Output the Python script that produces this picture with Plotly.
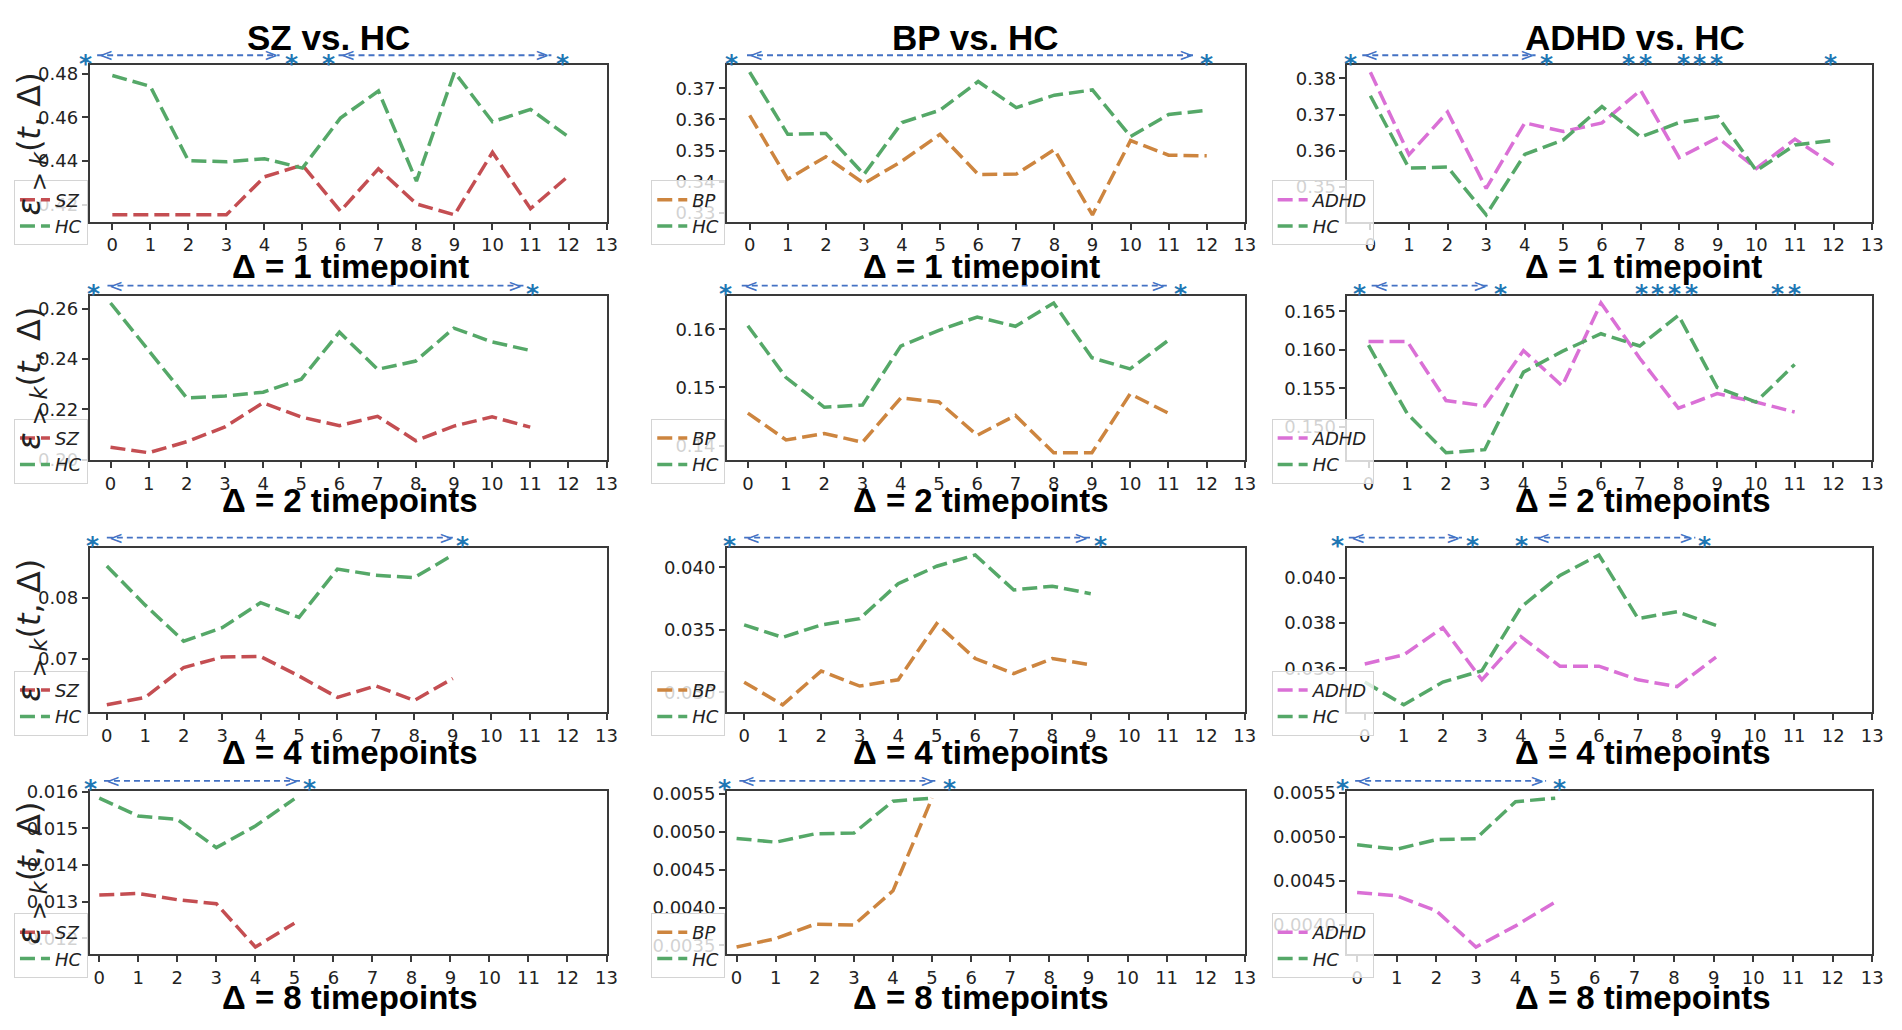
import plotly.graph_objects as go

# ---- data ----
timepoints = [0, 1, 2, 3, 4, 5, 6, 7, 8, 9, 10, 11, 12]
x_ticks = [0, 1, 2, 3, 4, 5, 6, 7, 8, 9, 10, 11, 12, 13]
column_titles = ["SZ vs. HC", "BP vs. HC", "ADHD vs. HC"]
row_titles = ["Δ = 1 timepoint", "Δ = 2 timepoints", "Δ = 4 timepoints", "Δ = 8 timepoints"]
groups = ["SZ", "BP", "ADHD"]

# delta = 1
sz_d1 = [0.4153, 0.4153, 0.4156, 0.4153, 0.4327, 0.4381, 0.4170, 0.4364, 0.4203, 0.4153, 0.4439, 0.4181, 0.4331]
hc_sz_d1 = [0.4791, 0.4741, 0.4401, 0.4396, 0.4410, 0.4367, 0.4596, 0.4720, 0.4307, 0.4806, 0.4579, 0.4636, 0.4510]
bp_d1 = [0.3613, 0.3408, 0.3480, 0.3394, 0.3466, 0.3552, 0.3423, 0.3424, 0.3503, 0.3293, 0.3532, 0.3485, 0.3483]
adhd_d1 = [0.3817, 0.3589, 0.3707, 0.3496, 0.3677, 0.3653, 0.3677, 0.3767, 0.3581, 0.3636, 0.3551, 0.3632, 0.3561]
hc_d1 = [0.3752, 0.3552, 0.3555, 0.3423, 0.3590, 0.3630, 0.3722, 0.3638, 0.3678, 0.3695, 0.3545, 0.3616, 0.3629]

# delta = 2
sz_d2 = [0.2049, 0.2027, 0.2071, 0.2130, 0.2226, 0.2169, 0.2135, 0.2172, 0.2075, 0.2133, 0.2170, 0.2129]
hc_sz_d2 = [0.2623, 0.2436, 0.2245, 0.2253, 0.2268, 0.2320, 0.2507, 0.2359, 0.2392, 0.2523, 0.2468, 0.2434]
bp_d2 = [0.1456, 0.1410, 0.1421, 0.1406, 0.1482, 0.1475, 0.1418, 0.1452, 0.1388, 0.1388, 0.1489, 0.1456]
adhd_d2 = [0.1611, 0.1611, 0.1534, 0.1527, 0.1599, 0.1553, 0.1661, 0.1589, 0.1524, 0.1543, 0.1532, 0.1519]
hc_d2 = [0.1606, 0.1517, 0.1466, 0.1470, 0.1571, 0.1598, 0.1621, 0.1605, 0.1645, 0.1551, 0.1532, 0.1581]

# delta = 4
sz_d4 = [0.0625, 0.0637, 0.0686, 0.0703, 0.0704, 0.0672, 0.0637, 0.0656, 0.0632, 0.0668]
hc_sz_d4 = [0.0852, 0.0788, 0.0729, 0.0751, 0.0792, 0.0768, 0.0847, 0.0837, 0.0833, 0.0870]
bp_d4 = [0.0308, 0.0290, 0.0317, 0.0305, 0.0310, 0.0355, 0.0327, 0.0315, 0.0327, 0.0322]
adhd_d4 = [0.0362, 0.0366, 0.0378, 0.0355, 0.0374, 0.0361, 0.0361, 0.0355, 0.0352, 0.0365]
hc_d4 = [0.0354, 0.0344, 0.0354, 0.0359, 0.0387, 0.0401, 0.0410, 0.0382, 0.0385, 0.0379]

# delta = 8
sz_d8 = [0.01318, 0.01322, 0.01305, 0.01294, 0.01176, 0.01241]
hc_sz_d8 = [0.01582, 0.01533, 0.01524, 0.01447, 0.01506, 0.01580]
bp_d8 = [0.00348, 0.00359, 0.00378, 0.00377, 0.00422, 0.00544]
adhd_d8 = [0.00437, 0.00433, 0.00416, 0.00375, 0.00399, 0.00426]
hc_d8 = [0.00491, 0.00486, 0.00497, 0.00498, 0.00540, 0.00544]

# significance marks: star positions and <--> spans (in timepoints)
star_sz_d1 = [-0.70, 4.72, 5.68, 11.84]
span_sz_d1 = [(-0.40, 4.40), (5.95, 11.55)]
star_bp_d1 = [-0.48, 12.0]
span_bp_d1 = [(-0.07, 11.70)]
star_adhd_d1 = [-0.52, 4.56, 6.68, 7.12, 8.10, 8.53, 8.96, 11.92]
span_adhd_d1 = [(-0.21, 4.28)]
star_sz_d2 = [-0.44, 11.07]
span_sz_d2 = [(-0.08, 10.83)]
star_bp_d2 = [-0.58, 11.31]
span_bp_d2 = [(-0.16, 10.96)]
star_adhd_d2 = [-0.24, 3.41, 7.04, 7.46, 7.91, 8.34, 10.55, 10.99]
span_adhd_d2 = [(0.08, 3.12)]
star_sz_d4 = [-0.36, 9.26]
span_sz_d4 = [(0.0, 9.05)]
star_bp_d4 = [-0.39, 9.26]
span_bp_d4 = [(0.0, 8.98)]
star_adhd_d4 = [-0.69, 2.75, 4.01, 8.70]
span_adhd_d4 = [(-0.41, 2.49), (4.34, 8.47)]
star_sz_d8 = [-0.22, 5.39]
span_sz_d8 = [(0.12, 5.15)]
star_bp_d8 = [-0.32, 5.44]
span_bp_d8 = [(0.07, 5.10)]
star_adhd_d8 = [-0.38, 5.10]
span_adhd_d8 = [(-0.05, 4.77)]

panels = [
    [(sz_d1, hc_sz_d1, star_sz_d1, span_sz_d1), (bp_d1, hc_d1, star_bp_d1, span_bp_d1), (adhd_d1, hc_d1, star_adhd_d1, span_adhd_d1)],
    [(sz_d2, hc_sz_d2, star_sz_d2, span_sz_d2), (bp_d2, hc_d2, star_bp_d2, span_bp_d2), (adhd_d2, hc_d2, star_adhd_d2, span_adhd_d2)],
    [(sz_d4, hc_sz_d4, star_sz_d4, span_sz_d4), (bp_d4, hc_d4, star_bp_d4, span_bp_d4), (adhd_d4, hc_d4, star_adhd_d4, span_adhd_d4)],
    [(sz_d8, hc_sz_d8, star_sz_d8, span_sz_d8), (bp_d8, hc_d8, star_bp_d8, span_bp_d8), (adhd_d8, hc_d8, star_adhd_d8, span_adhd_d8)],
]

# ---- styling ----
colors = {"SZ": "#c44e52", "BP": "#cd853f", "ADHD": "#da70d6", "HC": "#55a868"}
y_dtick = [[0.02, 0.01, 0.01], [0.02, 0.01, 0.005], [0.01, 0.005, 0.002], [0.001, 0.0005, 0.0005]]
y_fmt = [[".2f", ".2f", ".2f"], [".2f", ".2f", ".3f"], [".2f", ".3f", ".3f"], [".3f", ".4f", ".4f"]]

W, H = 1902, 1030
OFF = 8  # page body margin, the figure is drawn 8px in from the window corner
col_px = [(90, 610), (731, 1252), (1355, 1883)]
row_px = [(56, 216), (291, 459), (548, 716), (796, 963)]
title_cx = [330, 981, 1644]
title_cy = 28
sub_cx = [352, 987, 1653]
sub_cy = [261, 500, 757, 1007]
sig_dy = 10
tick_font = dict(family="DejaVu Sans", size=18, color="#222222")
dash = "15px,6px"
arrow_color = "#4472c4"
star_color = "#1f77b4"


def px_x(v):
    return (v - OFF) / W


def px_y(v):
    return 1 - (v - OFF) / H


fig = go.Figure()
layout = {}
annotations = []
shapes = []

for r in range(4):
    for c in range(3):
        n = r * 3 + c + 1
        sfx = "" if n == 1 else str(n)
        patient, hc, stars, spans = panels[r][c]
        t = timepoints[:len(patient)]
        x0px, x1px = col_px[c]
        y0px, y1px = row_px[r]

        leg = "legend" + sfx
        fig.add_trace(go.Scatter(x=t, y=patient, mode="lines", name="<i>%s</i>" % groups[c],
                                 line=dict(color=colors[groups[c]], width=3.5, dash=dash),
                                 xaxis="x" + sfx, yaxis="y" + sfx, legend=leg))
        fig.add_trace(go.Scatter(x=t, y=hc, mode="lines", name="<i>HC</i>",
                                 line=dict(color=colors["HC"], width=3.5, dash=dash),
                                 xaxis="x" + sfx, yaxis="y" + sfx, legend=leg))

        # matplotlib-like 5% margins
        lo = min(patient + hc)
        hi = max(patient + hc)
        pad = 0.05 * (hi - lo)
        xmin = -0.05 * t[-1]
        xmax = x_ticks[-1]

        axis_common = dict(showline=True, linecolor="#3a3a3a", linewidth=1.5, mirror=True,
                           ticks="outside", ticklen=6, tickwidth=1.5, tickcolor="#3a3a3a",
                           showgrid=False, zeroline=False, tickfont=tick_font)
        layout["xaxis" + sfx] = dict(axis_common, domain=[px_x(x0px), px_x(x1px)], anchor="y" + sfx,
                                     range=[xmin, xmax], tickvals=x_ticks)
        layout["yaxis" + sfx] = dict(axis_common, domain=[px_y(y1px), px_y(y0px)], anchor="x" + sfx,
                                     range=[lo - pad, hi + pad], tick0=0, dtick=y_dtick[r][c],
                                     tickformat=y_fmt[r][c])

        layout[leg] = dict(x=px_x(x0px - 76), y=px_y(y1px + 24), xanchor="left", yanchor="bottom",
                           xref="paper", yref="paper", bgcolor="rgba(255,255,255,0.8)",
                           bordercolor="#d4d4d4", borderwidth=1, tracegroupgap=0,
                           font=dict(family="DejaVu Sans", size=18, color="#222222"))

        # row subtitle (x label)
        annotations.append(dict(text=row_titles[r], xref="paper", yref="paper",
                                x=px_x(sub_cx[c]), y=px_y(sub_cy[r]), showarrow=False,
                                xanchor="center", yanchor="middle",
                                font=dict(family="Liberation Sans, Arial", size=33, color="black", weight="bold")))

        # significance spans and stars
        axis_h = y1px - y0px
        for a, b in spans:
            shapes.append(dict(type="line", xref="x" + sfx, yref="y" + sfx + " domain",
                               x0=a, x1=b, y0=1 + sig_dy / axis_h, y1=1 + sig_dy / axis_h,
                               line=dict(color=arrow_color, width=1.8, dash="6px,4px")))
            annotations.append(dict(text="<", x=a, xref="x" + sfx, y=1, yref="y" + sfx + " domain",
                                    yshift=sig_dy, showarrow=False, xanchor="left", yanchor="middle",
                                    font=dict(family="DejaVu Sans", size=17, color=arrow_color)))
            annotations.append(dict(text=">", x=b, xref="x" + sfx, y=1, yref="y" + sfx + " domain",
                                    yshift=sig_dy, showarrow=False, xanchor="right", yanchor="middle",
                                    font=dict(family="DejaVu Sans", size=17, color=arrow_color)))
        for s in stars:
            annotations.append(dict(text="*", x=(s - xmin) / (xmax - xmin), xref="x" + sfx + " domain",
                                    y=1, yref="y" + sfx + " domain", yshift=sig_dy - 8, showarrow=False,
                                    xanchor="center", yanchor="middle",
                                    font=dict(family="DejaVu Sans", size=25, color=star_color, weight="bold")))

    # y-axis label, first column only
    annotations.append(dict(text="<i>ε</i><sub> &gt; <i>k</i></sub>(<i>t</i>, Δ)", xref="paper", yref="paper",
                            x=px_x(31), y=px_y((row_px[r][0] + row_px[r][1]) / 2), textangle=-90,
                            showarrow=False, xanchor="center", yanchor="middle",
                            font=dict(family="DejaVu Sans", size=32, color="#222222")))

for c in range(3):
    annotations.append(dict(text=column_titles[c], xref="paper", yref="paper",
                            x=px_x(title_cx[c]), y=px_y(title_cy), showarrow=False,
                            xanchor="center", yanchor="middle",
                            font=dict(family="Liberation Sans, Arial", size=35, color="black", weight="bold")))

fig.update_layout(**layout)
fig.update_layout(width=W, height=H, margin=dict(l=0, r=0, t=0, b=0),
                  paper_bgcolor="white", plot_bgcolor="white",
                  annotations=annotations, shapes=shapes, showlegend=True)

fig.write_html("out.html")
